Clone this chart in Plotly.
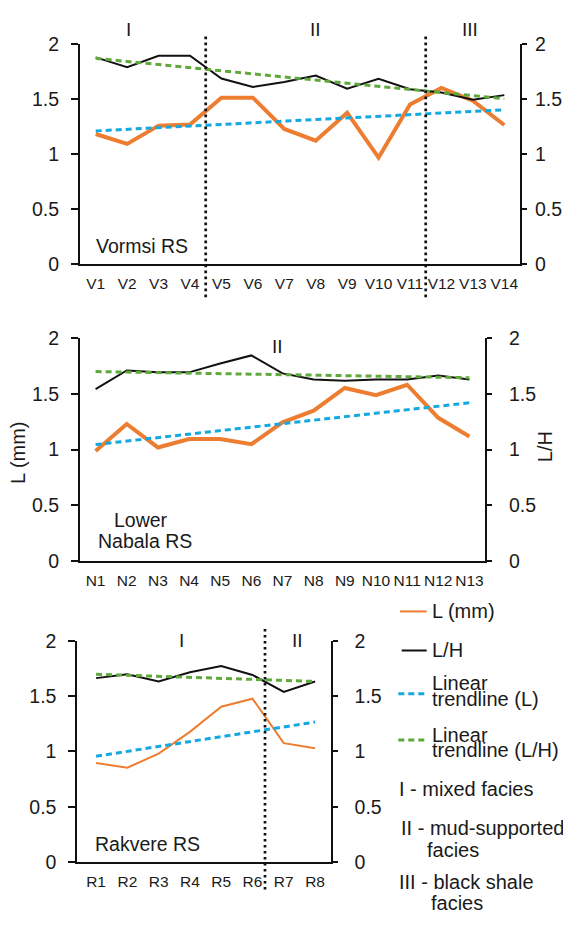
import plotly.graph_objects as go

# ---------------- data ----------------
vormsi_labels = ["V1", "V2", "V3", "V4", "V5", "V6", "V7", "V8", "V9", "V10", "V11", "V12", "V13", "V14"]
vormsi_L = [1.18, 1.09, 1.256, 1.267, 1.51, 1.51, 1.226, 1.12, 1.374, 0.966, 1.448, 1.598, 1.483, 1.262]
vormsi_LH = [1.876, 1.787, 1.891, 1.891, 1.684, 1.607, 1.652, 1.71, 1.592, 1.681, 1.586, 1.557, 1.492, 1.533]
vormsi_trend_L = [1.208, 1.400]
vormsi_trend_LH = [1.867, 1.500]

nabala_labels = ["N1", "N2", "N3", "N4", "N5", "N6", "N7", "N8", "N9", "N10", "N11", "N12", "N13"]
nabala_L = [0.987, 1.23, 1.019, 1.095, 1.095, 1.048, 1.245, 1.349, 1.553, 1.489, 1.582, 1.285, 1.118]
nabala_LH = [1.543, 1.71, 1.693, 1.693, 1.772, 1.845, 1.684, 1.629, 1.617, 1.629, 1.629, 1.664, 1.629]
nabala_trend_L = [1.045, 1.420]
nabala_trend_LH = [1.700, 1.645]

rakvere_labels = ["R1", "R2", "R3", "R4", "R5", "R6", "R7", "R8"]
rakvere_L = [0.894, 0.853, 0.979, 1.176, 1.403, 1.476, 1.074, 1.029]
rakvere_LH = [1.662, 1.697, 1.632, 1.715, 1.771, 1.691, 1.538, 1.632]
rakvere_trend_L = [0.956, 1.265]
rakvere_trend_LH = [1.697, 1.632]

y_ticks = [0, 0.5, 1, 1.5, 2]
y_ticktext = ["0", "0.5", "1", "1.5", "2"]

legend_labels = ["L (mm)", "L/H", "Linear trendline (L)", "Linear trendline (L/H)"]
facies_legend = ["I - mixed facies", "II - mud-supported facies", "III - black shale facies"]

# ---------------- styles ----------------
PAGE_W, PAGE_H = 571, 926
BODY = 8  # default page margin around the plot div
W, H = PAGE_W - BODY, PAGE_H - BODY
ORANGE = "#ED7D31"
BLACK = "#111111"
BLUE = "#14A8E0"
GREEN = "#5FA83A"
TXT = "#1a1a1a"
FONT = "Liberation Sans, Arial, sans-serif"


def px(x):
    return (x - BODY) / W


def py(y):
    return 1 - (y - BODY) / H


fig = go.Figure()

panels = [
    dict(labels=vormsi_labels, L=vormsi_L, LH=vormsi_LH, tL=vormsi_trend_L, tLH=vormsi_trend_LH,
         xa="x", ya="y", ya2="y2", orange_w=4),
    dict(labels=nabala_labels, L=nabala_L, LH=nabala_LH, tL=nabala_trend_L, tLH=nabala_trend_LH,
         xa="x2", ya="y3", ya2="y4", orange_w=4),
    dict(labels=rakvere_labels, L=rakvere_L, LH=rakvere_LH, tL=rakvere_trend_L, tLH=rakvere_trend_LH,
         xa="x3", ya="y5", ya2="y6", orange_w=2),
]

for p in panels:
    n = len(p["labels"])
    xs = list(range(n))
    fig.add_trace(go.Scatter(x=xs, y=p["L"], mode="lines", xaxis=p["xa"], yaxis=p["ya"],
                             line=dict(color=ORANGE, width=p["orange_w"]), name=legend_labels[0],
                             showlegend=False))
    fig.add_trace(go.Scatter(x=xs, y=p["LH"], mode="lines", xaxis=p["xa"], yaxis=p["ya2"],
                             line=dict(color=BLACK, width=2), name=legend_labels[1], showlegend=False))
    fig.add_trace(go.Scatter(x=[0, n - 1], y=p["tL"], mode="lines", xaxis=p["xa"], yaxis=p["ya"],
                             line=dict(color=BLUE, width=3, dash="6px,4px"), name=legend_labels[2],
                             showlegend=False))
    fig.add_trace(go.Scatter(x=[0, n - 1], y=p["tLH"], mode="lines", xaxis=p["xa"], yaxis=p["ya2"],
                             line=dict(color=GREEN, width=3, dash="6px,4px"), name=legend_labels[3],
                             showlegend=False))

# ---------------- axes ----------------
geo = [
    dict(xd=(80, 520), yd=(259, 33.3), xr=[-0.5, 13.5], ls=8, rs=4),
    dict(xd=(80, 485), yd=(563.3, 335), xr=[-0.5, 12.5], ls=8, rs=13),
    dict(xd=(77.3, 330.7), yd=(871.7, 645), xr=[-0.6, 7.5], ls=8, rs=13),
]

layout = dict(
    width=W, height=H, margin=dict(l=0, r=0, t=0, b=0),
    paper_bgcolor="white", plot_bgcolor="white", showlegend=False,
    font=dict(family=FONT, color=TXT),
)

for i, (g, p) in enumerate(zip(geo, panels)):
    xname = "xaxis" if i == 0 else f"xaxis{i + 1}"
    yl = 2 * i + 1
    yr = 2 * i + 2
    ylname = "yaxis" if yl == 1 else f"yaxis{yl}"
    yrname = f"yaxis{yr}"
    xid = "x" if i == 0 else f"x{i + 1}"
    ylid = "y" if yl == 1 else f"y{yl}"
    n = len(p["labels"])
    layout[xname] = dict(
        domain=[px(g["xd"][0]), px(g["xd"][1])], anchor=ylid, range=g["xr"],
        tickmode="array", tickvals=list(range(n)), ticktext=p["labels"], tickangle=0,
        showline=True, linecolor=BLACK, linewidth=2, ticks="", showgrid=False, zeroline=False,
        tickfont=dict(family=FONT, size=15.5, color=TXT), ticklabelstandoff=4, fixedrange=True,
    )
    common_y = dict(
        domain=[py(g["yd"][0]), py(g["yd"][1])], range=[0, 2],
        tickmode="array", tickvals=y_ticks, ticktext=y_ticktext,
        showline=True, linecolor=BLACK, linewidth=2, ticks="outside", tickcolor=BLACK, tickwidth=2,
        showgrid=False, zeroline=False, tickfont=dict(family=FONT, size=19.5, color=TXT),
    )
    layout[ylname] = dict(common_y, anchor=xid, side="left", ticklen=7, ticklabelstandoff=g["ls"])
    layout[yrname] = dict(common_y, anchor=xid, side="right", overlaying=ylid, ticklen=5,
                          ticklabelstandoff=g["rs"])

fig.update_layout(**layout)

# ---------------- facies dividers ----------------
dot = dict(color=BLACK, width=2.7, dash="2.7px,3.3px")
for xv in [3.5, 10.5]:
    fig.add_shape(type="line", xref="x", yref="paper", x0=xv, x1=xv, y0=py(293), y1=py(23), line=dot)
fig.add_shape(type="line", xref="x3", yref="paper", x0=5.4, x1=5.4, y0=py(900), y1=py(632), line=dot)

ann = []


def text(x, y, s, size=19.5, xref="paper", xanchor="center", angle=0):
    ann.append(dict(x=x, y=y, xref=xref, yref="paper", text=s, showarrow=False,
                    xanchor=xanchor, yanchor="middle", textangle=angle,
                    font=dict(family=FONT, size=size, color=TXT)))


# facies numerals
text(1.03, py(19), "I", size=19, xref="x")
text(7.0, py(19), "II", size=19, xref="x")
text(11.9, py(19), "III", size=19, xref="x")
text(5.83, py(343.3), "II", size=19, xref="x2")
text(2.72, py(645), "I", size=19, xref="x3")
text(6.44, py(645), "II", size=19, xref="x3")

# section names
text(px(142.2), py(240.7), "Vormsi RS")
text(px(141), py(521), "Lower")
text(px(145.3), py(543.3), "Nabala RS")
text(px(147.5), py(853.3), "Rakvere RS")

# axis titles (middle panel)
text(px(18.2), py(452.5), "L (mm)", size=20, angle=-90)
text(px(545), py(446.7), "L/H", size=20, angle=-90)

# ---------------- legend ----------------
fig.add_shape(type="line", xref="paper", yref="paper", x0=px(400), x1=px(426.7), y0=py(615), y1=py(615),
              line=dict(color=ORANGE, width=2))
fig.add_shape(type="line", xref="paper", yref="paper", x0=px(401.7), x1=px(426.7), y0=py(655), y1=py(655),
              line=dict(color=BLACK, width=2))
fig.add_shape(type="line", xref="paper", yref="paper", x0=px(398.3), x1=px(428.3), y0=py(699.3), y1=py(699.3),
              line=dict(color=BLUE, width=3, dash="6px,4px"))
fig.add_shape(type="line", xref="paper", yref="paper", x0=px(398.3), x1=px(428.3), y0=py(746.7), y1=py(746.7),
              line=dict(color=GREEN, width=3, dash="6px,4px"))

LS = 20
text(px(430), py(615), legend_labels[0], size=LS, xanchor="left")
text(px(430), py(655), legend_labels[1], size=LS, xanchor="left")
t2 = legend_labels[2].split(" ", 1)
text(px(430), py(688.3), t2[0], size=LS, xanchor="left")
text(px(430), py(705), t2[1], size=LS, xanchor="left")
t3 = legend_labels[3].split(" ", 1)
text(px(430), py(741.7), t3[0], size=LS, xanchor="left")
text(px(430), py(756.7), t3[1], size=LS, xanchor="left")

text(px(397), py(796.7), facies_legend[0], size=LS, xanchor="left")
f2 = facies_legend[1].rsplit(" ", 1)
text(px(398.5), py(837.3), f2[0], size=LS, xanchor="left")
text(px(425), py(859.3), f2[1], size=LS, xanchor="left")
f3 = facies_legend[2].rsplit(" ", 1)
text(px(397), py(891.7), f3[0], size=LS, xanchor="left")
text(px(428.5), py(913.3), f3[1], size=LS, xanchor="left")

fig.update_layout(annotations=ann)

fig.write_html("out.html", config={"displayModeBar": False})
